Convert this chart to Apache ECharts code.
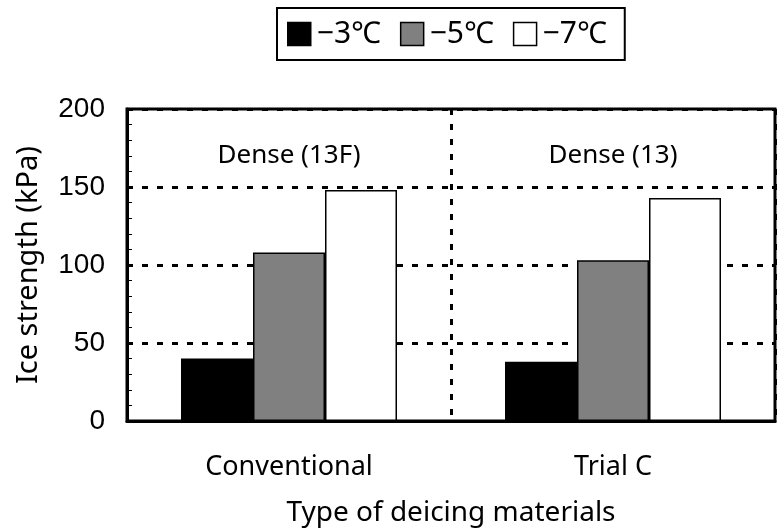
<!DOCTYPE html>
<html lang="en">

<head>
	<meta charset="UTF-8">
	<title>Ice strength</title>
	<script src="https://cdn.jsdelivr.net/npm/echarts@6/dist/echarts.min.js"></script>
	<style>
		html, body {
			margin: 0;
			padding: 0;
			background-color: #fff;
		}

		#main {
			width: 780px;
			height: 529px;
		}
	</style>
</head>

<body>

	<div id="main"></div>

	<script>
		// data
		const categories = ['Conventional', 'Trial C'];
		const seriesNames = ['\u22123\u2103', '\u22125\u2103', '\u22127\u2103'];
		const valuesMinus3 = [40, 38];
		const valuesMinus5 = [108, 103];
		const valuesMinus7 = [148, 143];
		const denseLabels = ['Dense (13F)', 'Dense (13)'];
		const denseLabelLevel = [170, 170];
		const yTicks = [0, 50, 100, 150, 200];

		const textFont = '"Noto Sans", "Noto Sans CJK JP", sans-serif';
		const numFont = '"Liberation Sans", Arial, sans-serif';
		const fills = ['#000000', '#808080', '#ffffff'];

		const myChart = echarts.init(document.getElementById('main'), null, { renderer: 'canvas' });

		function barSeries(name, data, color) {
			return {
				name: name,
				type: 'bar',
				data: data,
				barWidth: 72,
				barGap: '0%',
				itemStyle: {
					color: color,
					borderColor: '#000',
					borderWidth: 1.5
				},
				z: 3
			};
		}

		const option = {
			animation: false,
			backgroundColor: '#fff',
			legend: {
				left: 277,
				top: 8,
				data: seriesNames,
				icon: 'rect',
				itemWidth: 23,
				itemHeight: 23,
				itemGap: 19,
				padding: [11, 18, 11, 10],
				borderColor: '#000',
				borderWidth: 2,
				borderRadius: 0,
				itemStyle: {
					borderColor: '#000',
					borderWidth: 1.5
				},
				textStyle: {
					fontFamily: textFont,
					fontSize: 30,
					color: '#000',
					padding: [0, 0, 0, 1]
				}
			},
			grid: {
				left: 127,
				right: 5,
				top: 109,
				bottom: 108,
				outerBoundsMode: 'none',
				containLabel: false,
				show: true,
				borderColor: '#000',
				borderWidth: 3,
				backgroundColor: 'transparent'
			},
			xAxis: {
				type: 'category',
				data: categories,
				name: 'Type of deicing materials',
				nameLocation: 'middle',
				nameGap: 78,
				nameTextStyle: {
					fontFamily: textFont,
					fontSize: 28,
					color: '#000'
				},
				axisLine: { lineStyle: { color: '#000', width: 3 } },
				axisTick: { show: false },
				axisLabel: {
					fontFamily: textFont,
					fontSize: 27,
					color: '#000',
					margin: 33
				},
				splitLine: {
					show: true,
					lineStyle: { color: '#000', width: 3, type: [6, 9] }
				}
			},
			yAxis: {
				type: 'value',
				min: yTicks[0],
				max: yTicks[yTicks.length - 1],
				interval: 50,
				name: 'Ice strength (kPa)',
				nameLocation: 'middle',
				nameGap: 84,
				nameTextStyle: {
					fontFamily: textFont,
					fontSize: 29,
					color: '#000'
				},
				axisLine: { show: true, lineStyle: { color: '#000', width: 3 } },
				axisTick: { show: true, inside: true, length: 5, lineStyle: { color: '#000', width: 1 } },
				minorTick: { show: true, splitNumber: 5, length: 5, lineStyle: { color: '#000', width: 1 } },
				axisLabel: {
					fontFamily: numFont,
					fontSize: 28,
					color: '#000',
					margin: 22
				},
				splitLine: {
					show: true,
					lineStyle: { color: '#000', width: 3, type: [6, 9] }
				}
			},
			series: [
				barSeries(seriesNames[0], valuesMinus3, fills[0]),
				barSeries(seriesNames[1], valuesMinus5, fills[1]),
				barSeries(seriesNames[2], valuesMinus7, fills[2]),
				{
					name: 'dense',
					type: 'scatter',
					data: categories.map((c, i) => ({ value: [c, denseLabelLevel[i]], label: { formatter: denseLabels[i] } })),
					symbolSize: 1,
					itemStyle: { color: 'rgba(0,0,0,0)' },
					silent: true,
					label: {
						show: true,
						position: 'inside',
						fontFamily: textFont,
						fontSize: 26,
						color: '#000',
						opacity: 1,
						textBorderWidth: 0
					},
					z: 4
				}
			]
		};

		myChart.setOption(option);
	</script>
</body>

</html>
